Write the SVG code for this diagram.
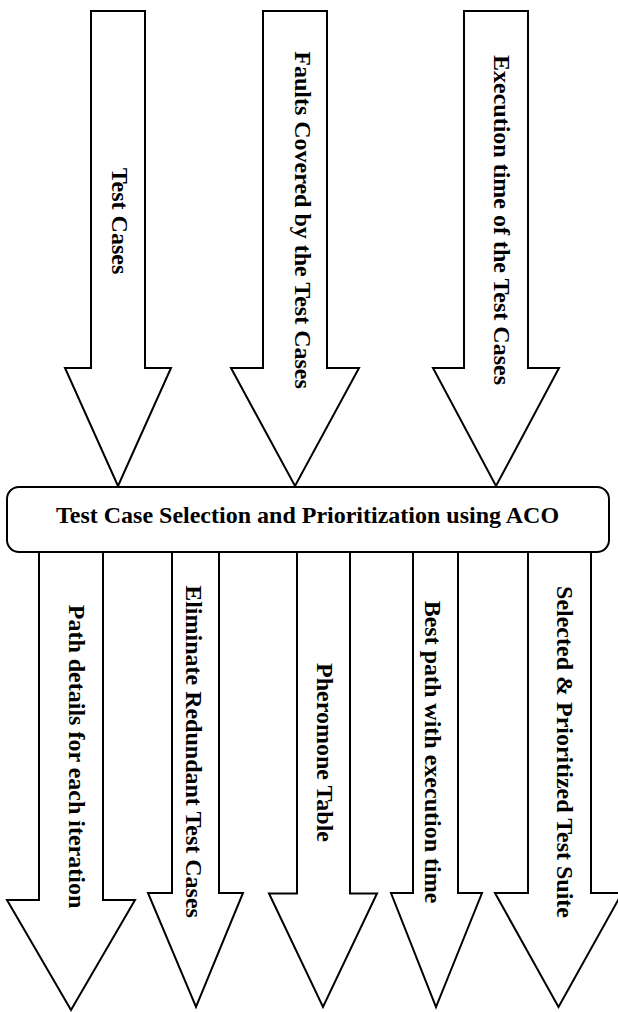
<svg xmlns="http://www.w3.org/2000/svg" width="618" height="1012" viewBox="0 0 618 1012">
  <style>
    .arrow { fill: #ffffff; stroke: #000000; stroke-width: 2; stroke-linejoin: miter; }
    .box { fill: #ffffff; stroke: #000000; stroke-width: 2; }
    .lbl { font-family: "Liberation Serif", "Times New Roman", serif; font-weight: bold; font-size: 24px; fill: #000000; text-anchor: middle; }
  </style>
  <rect width="618" height="1012" fill="#ffffff"/>
  <g id="connectors">
    <g id="in-test-cases">
      <polygon class="arrow" points="91,11 145,11 145,368 171,368 118,486 65,368 91,368"/>
      <text class="lbl" transform="translate(112,221) rotate(90)">Test Cases</text>
    </g>
    <g id="in-faults">
      <polygon class="arrow" points="263,11 327,11 327,368 359,368 295,486 231,368 263,368"/>
      <text class="lbl" transform="translate(294.5,220) rotate(90)">Faults Covered by the Test Cases</text>
    </g>
    <g id="in-exec-time">
      <polygon class="arrow" points="464,11 528,11 528,368 559,368 496,486 433,368 464,368"/>
      <text class="lbl" transform="translate(494,220) rotate(90)">Execution time of the Test Cases</text>
    </g>
    <g id="out-path-details">
      <polygon class="arrow" points="39,552 103,552 103,900 135,900 71,1010 7,900 39,900"/>
      <text class="lbl" transform="translate(69,756.5) rotate(90)">Path details for each iteration</text>
    </g>
    <g id="out-eliminate">
      <polygon class="arrow" points="172,552 219,552 219,893 243,893 196,1007 148,893 172,893"/>
      <text class="lbl" transform="translate(185.5,751.5) rotate(90)">Eliminate Redundant Test Cases</text>
    </g>
    <g id="out-pheromone">
      <polygon class="arrow" points="297,552 350,552 350,893.5 377,893.5 323,1007 269,893.5 297,893.5"/>
      <text class="lbl" transform="translate(317,752.5) rotate(90)">Pheromone Table</text>
    </g>
    <g id="out-best-path">
      <polygon class="arrow" points="413,552 458,552 458,893 482,893 436,1007 391,893 413,893"/>
      <text class="lbl" transform="translate(424.5,752) rotate(90)">Best path with execution time</text>
    </g>
    <g id="out-selected">
      <polygon class="arrow" points="528,552 591,552 591,893 622,893 558.5,1007 495,893 528,893"/>
      <text class="lbl" transform="translate(557,752) rotate(90)">Selected &amp; Prioritized Test Suite</text>
    </g>
  </g>
  <g id="node-aco">
    <rect class="box" x="7" y="487" width="602" height="65" rx="12" ry="12"/>
    <text class="lbl" x="307.5" y="523">Test Case Selection and Prioritization using ACO</text>
  </g>
</svg>
